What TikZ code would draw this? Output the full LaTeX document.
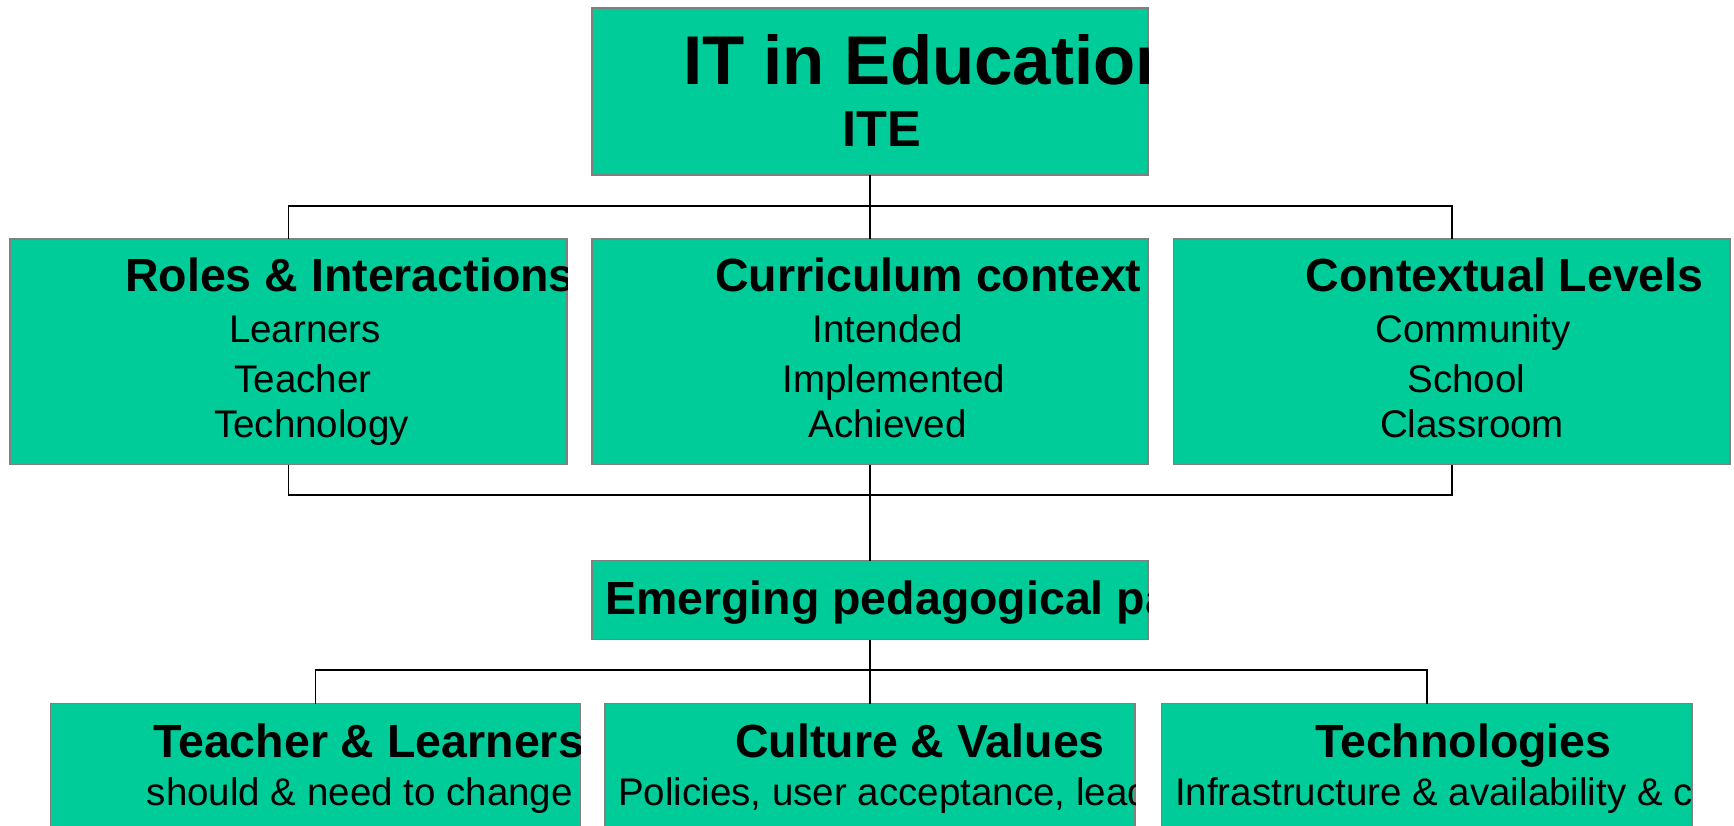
\documentclass[tikz,border=0pt]{standalone}
\usepackage{fontspec}
\setmainfont{Liberation Sans}
\usetikzlibrary{positioning}
\definecolor{boxgreen}{RGB}{0,204,153}
\definecolor{boxgray}{RGB}{128,128,128}

\begin{document}
\begin{tikzpicture}[x=1pt,y=-1pt,
    box/.style={draw=boxgray,fill=boxgreen,line width=1.2pt,rectangle,
      inner sep=0pt,outer sep=0pt,anchor=north west},
    link/.style={line width=1.8pt},
    head/.style={anchor=base west,inner sep=0pt,
      font=\fontsize{46.5}{52}\selectfont\bfseries},
    sub/.style={anchor=base,inner sep=0pt,
      font=\fontsize{38.5}{44}\selectfont},
    subl/.style={anchor=base west,inner sep=0pt,
      font=\fontsize{38.5}{44}\selectfont}]
    \useasboundingbox (0,0) rectangle (1734,826);
    \clip (0,0) rectangle (1734,826);

    % boxes
    \node[box,minimum width=556pt,minimum height=167pt] at (592,8) (ite) {};
    \node[box,minimum width=557pt,minimum height=225.5pt] at (10,239) (roles) {};
    \node[box,minimum width=556pt,minimum height=225.5pt] at (592,239) (curr) {};
    \node[box,minimum width=556.5pt,minimum height=225.5pt] at (1173.5,239) (ctx) {};
    \node[box,minimum width=556pt,minimum height=79pt] at (592,560.5) (emerg) {};
    \node[box,minimum width=530pt,minimum height=160pt] at (50.5,703.5) (teach) {};
    \node[box,minimum width=530pt,minimum height=160pt] at (605,703.5) (cult) {};
    \node[box,minimum width=530.5pt,minimum height=160pt] at (1161.5,703.5) (tech) {};

    % connectors
    \coordinate (topbar) at (870,206);
    \coordinate (midbar) at (870,495);
    \coordinate (lowbar) at (870,670);
    \draw[link] (ite) -- (curr);
    \draw[link] (roles.north) |- (topbar) -| (ctx.north);
    \draw[link] (roles.south) |- (midbar) -| (ctx.south);
    \draw[link] (curr) -- (emerg);
    \draw[link] (teach.north) |- (lowbar) -| (tech.north);
    \draw[link] (emerg) -- (cult);

    % texts, cut at the box edges
    \begin{scope}
        \clip (ite.north west) rectangle (ite.south east);
        \node[anchor=base west,inner sep=0pt,font=\fontsize{69}{80}\selectfont\bfseries]
            at (683,84.3) (itetitle) {IT in Education};
        \node[anchor=base,inner sep=0pt,font=\fontsize{50.5}{58}\selectfont\bfseries]
            at (881.5,146.7) (iteshort) {ITE};
    \end{scope}
    \begin{scope}
        \clip (roles.north west) rectangle (roles.south east);
        \node[head] at (125,291.7) (roleshead) {Roles \& Interactions};
        \node[sub] at (305,342) (learners) {Learners};
        \node[sub] at (303,392) (teacher) {Teacher};
        \node[sub] at (311.5,437) (technology) {Technology};
    \end{scope}
    \begin{scope}
        \clip (curr.north west) rectangle (curr.south east);
        \node[head] at (715,291.7) (currhead) {Curriculum context};
        \node[sub] at (887.5,342) (intended) {Intended};
        \node[sub] at (894,392) (implemented) {Implemented};
        \node[sub] at (887.5,437) (achieved) {Achieved};
    \end{scope}
    \begin{scope}
        \clip (ctx.north west) rectangle (ctx.south east);
        \node[head] at (1305.5,291.7) (ctxhead) {Contextual Levels};
        \node[sub] at (1473,342) (community) {Community};
        \node[sub] at (1466.5,392) (school) {School};
        \node[sub] at (1472,437) (classroom) {Classroom};
    \end{scope}
    \begin{scope}
        \clip (emerg.north west) rectangle (emerg.south east);
        \node[head] at (605,614.3) (emerghead) {Emerging pedagogical pa};
    \end{scope}
    \begin{scope}
        \clip (teach.north west) rectangle (teach.south east);
        \node[head] at (153,757) (teachhead) {Teacher \& Learners};
        \node[subl] at (146.6,805.7) (change) {should \& need to change};
    \end{scope}
    \begin{scope}
        \clip (cult.north west) rectangle (cult.south east);
        \node[head] at (735,757) (culthead) {Culture \& Values};
        \node[subl] at (618,805.7) (policies) {Policies, user acceptance, lead};
    \end{scope}
    \begin{scope}
        \clip (tech.north west) rectangle (tech.south east);
        \node[head] at (1315,757) (techhead) {Technologies};
        \node[subl] at (1174.8,805.7) (infra) {Infrastructure \& availability \& c};
    \end{scope}
\end{tikzpicture}
\end{document}
